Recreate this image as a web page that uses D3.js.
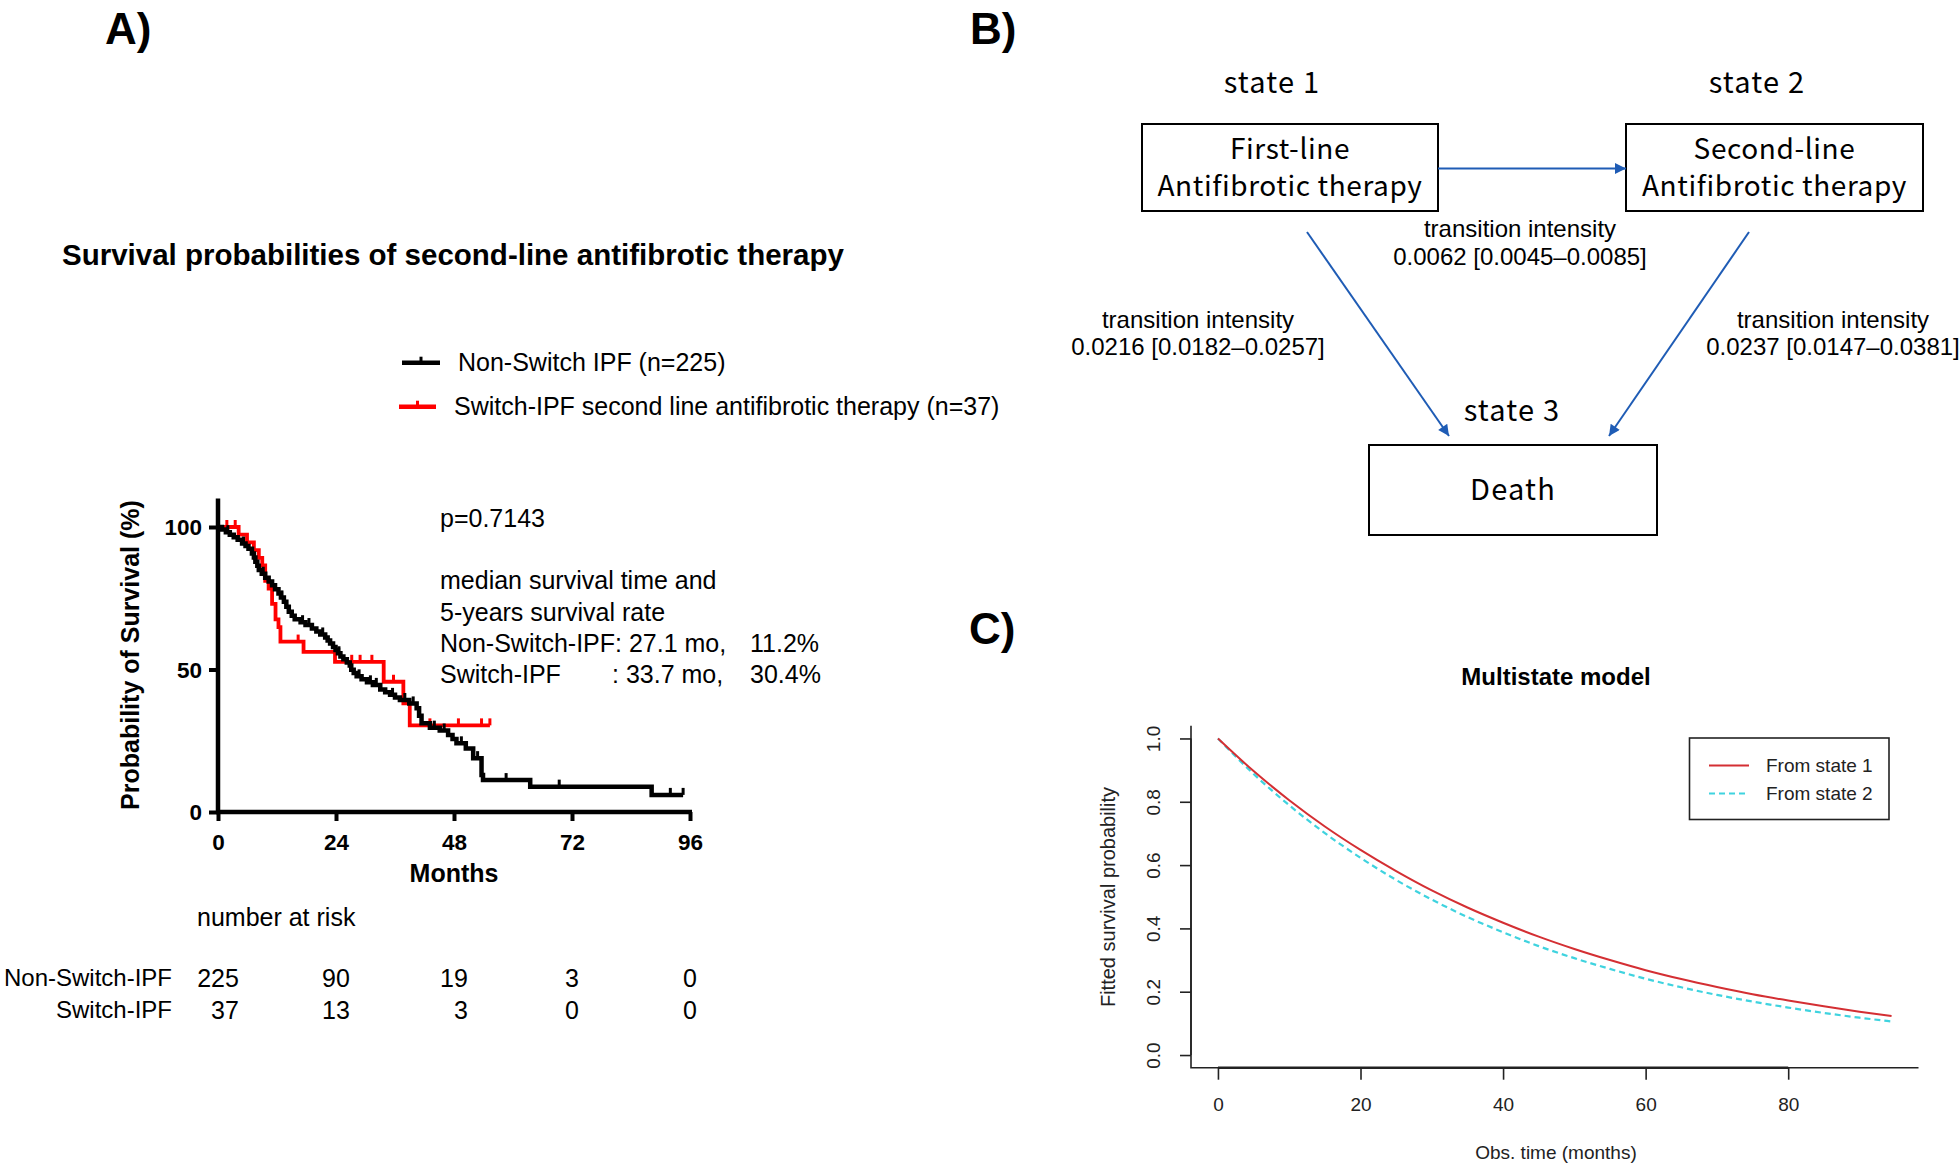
<!DOCTYPE html>
<html>
<head>
<meta charset="utf-8">
<script src="https://cdn.jsdelivr.net/npm/d3@7"></script>
<style>
  html, body { margin: 0; padding: 0; background: #fff; }
  svg { display: block; }
</style>
</head>
<body>
<script>
// ---------------- DATA ----------------
// Panel A: Kaplan-Meier (months, survival %)
const kmMonthTicks = [0, 24, 48, 72, 96];
const kmSurvTicks = [0, 50, 100];
const nonSwitchTimes = [0, 0.8, 1.6, 2.4, 3.2, 4.0, 4.9, 5.6, 6.2, 6.9, 7.3, 7.6, 8.0, 8.3, 8.9, 9.6, 10.3, 11.0, 11.6, 12.3, 12.8, 13.4, 13.9, 14.4, 15.0, 15.6, 16.8, 17.8, 19.1, 20.0, 20.8, 21.8, 22.3, 22.8, 23.4, 23.9, 24.4, 24.9, 25.5, 26.2, 26.8, 27.1, 27.6, 28.2, 29.2, 30.3, 31.5, 33.0, 34.0, 35.0, 36.0, 37.0, 38.9, 40.4, 40.9, 41.4, 43.1, 45.1, 46.8, 47.7, 48.5, 50.4, 51.9, 53.6, 53.9, 63.5, 88.2];
const nonSwitchSurv = [100, 99.1, 98.2, 97.3, 96.4, 95.5, 94.2, 93.3, 92.4, 90.7, 89.3, 87.8, 86.4, 84.9, 83.6, 82.2, 80.9, 79.6, 78.2, 76.7, 75.3, 73.8, 72.0, 70.3, 68.9, 67.6, 66.6, 65.6, 64.4, 63.3, 62.3, 61.2, 60.2, 59.1, 57.9, 56.8, 55.7, 54.6, 53.6, 52.5, 51.4, 49.9, 48.8, 47.6, 46.6, 45.5, 44.6, 43.0, 42.0, 41.1, 40.2, 39.3, 38.1, 36.4, 33.8, 31.1, 29.6, 28.6, 27.0, 25.6, 24.1, 22.3, 18.9, 13.0, 11.2, 8.9, 6.0];
const nonSwitchEnd = 94.6;
const nonSwitchCensor = [2.0, 5.2, 9.2, 13.0, 17.2, 18.5, 21.3, 24.6, 28.7, 31.0, 32.2, 35.5, 38.0, 39.7, 44.0, 46.0, 49.5, 52.8, 58.6, 69.4, 92.0, 94.6];
const switchTimes = [0, 4.2, 5.9, 7.3, 8.3, 9.0, 9.6, 10.3, 11.0, 11.7, 12.3, 12.7, 17.4, 23.8, 33.7, 37.7, 39.0];
const switchSurv = [100, 97.3, 94.6, 91.9, 89.2, 86.5, 81.1, 78.4, 73.0, 67.6, 64.9, 59.8, 56.2, 52.7, 45.7, 38.1, 30.4];
const switchEnd = 55.3;
const switchCensor = [1.8, 3.5, 16.3, 27.2, 28.9, 31.3, 35.7, 43.1, 48.9, 53.6, 55.3];
const legendLabelsA = ["Non-Switch IPF (n=225)", "Switch-IPF second line antifibrotic therapy (n=37)"];
const riskTimes = [0, 24, 48, 72, 96];
const riskNonSwitch = [225, 90, 19, 3, 0];
const riskSwitch = [37, 13, 3, 0, 0];
const riskRowLabels = ["Non-Switch-IPF", "Switch-IPF"];

// Panel B: multistate diagram
const stateTitles = ["state 1", "state 2", "state 3"];
const stateBoxLines = [["First-line", "Antifibrotic therapy"], ["Second-line", "Antifibrotic therapy"], ["Death"]];
const transitionLabels = ["0.0062 [0.0045\u20130.0085]", "0.0216 [0.0182\u20130.0257]", "0.0237 [0.0147\u20130.0381]"];

// Panel C: fitted survival (months, probability)
const msTimes = [0, 5, 10, 15, 20, 25, 30, 35, 40, 45, 50, 55, 60, 65, 70, 75, 80, 85, 90, 94.5];
const msFromState1 = [1.000, 0.897, 0.805, 0.722, 0.648, 0.581, 0.520, 0.466, 0.418, 0.374, 0.335, 0.300, 0.268, 0.240, 0.215, 0.192, 0.172, 0.154, 0.137, 0.123];
const msFromState2 = [1.000, 0.888, 0.789, 0.701, 0.623, 0.553, 0.491, 0.436, 0.388, 0.344, 0.306, 0.272, 0.241, 0.214, 0.190, 0.169, 0.150, 0.133, 0.118, 0.106];
const msXTicks = [0, 20, 40, 60, 80];
const msYTicks = [0, 0.2, 0.4, 0.6, 0.8, 1.0];
const msLegend = ["From state 1", "From state 2"];

// ---------------- DRAW ----------------
const W = 1959, H = 1164;
const SANS = "'Liberation Sans', Arial, Helvetica, sans-serif";
const JP = "'Noto Sans CJK JP', 'Noto Sans', sans-serif";
const svg = d3.select("body").append("svg").attr("width", W).attr("height", H)
  .style("font-family", SANS);
svg.append("rect").attr("width", W).attr("height", H).attr("fill", "#fff");

function txt(g, x, y, s, size, opts = {}) {
  const t = g.append("text").attr("x", x).attr("y", y).attr("dy", "0.35em")
    .attr("font-size", size).attr("font-weight", opts.bold ? "bold" : "normal")
    .attr("text-anchor", opts.anchor || "start")
    .attr("font-family", opts.font || SANS)
    .attr("fill", opts.fill || "#000").text(s);
  if (opts.ls) t.attr("letter-spacing", opts.ls);
  return t;
}

// Panel letters
[["A)", 105, 44], ["B)", 970, 44], ["C)", 969, 644]].forEach(([s, x, y]) => {
  svg.append("text").attr("x", x).attr("y", y).attr("font-size", 44).attr("font-weight", "bold").text(s);
});

// ===== Panel A =====
const gA = svg.append("g");
const xA = d3.scaleLinear().domain([0, 96]).range([218, 690]);
const yA = d3.scaleLinear().domain([0, 110]).range([812, 498.5]);

txt(gA, 62, 255, "Survival probabilities of second-line antifibrotic therapy", 29.5, {bold: true});

// legend
const legA = [[362.7, "#000", 458], [406.7, "#f00", 454]];
legA.forEach(([ly, c, tx], i) => {
  const x0 = i === 0 ? 402 : 399, x1 = i === 0 ? 440 : 436;
  gA.append("line").attr("x1", x0).attr("x2", x1).attr("y1", ly).attr("y2", ly)
    .attr("stroke", c).attr("stroke-width", 4.5);
  gA.append("line").attr("x1", (x0 + x1) / 2).attr("x2", (x0 + x1) / 2).attr("y1", ly).attr("y2", ly - 6)
    .attr("stroke", c).attr("stroke-width", 3);
  txt(gA, tx, ly, legendLabelsA[i], 25);
});

// axes
const xAxisA = d3.axisBottom(xA).tickValues(kmMonthTicks).tickSize(9).tickSizeOuter(0).tickPadding(13);
const yAxisA = d3.axisLeft(yA).tickValues(kmSurvTicks).tickSize(9).tickSizeOuter(0).tickPadding(7);
const gx = gA.append("g").attr("transform", "translate(0,812)").call(xAxisA);
const gy = gA.append("g").attr("transform", "translate(218,0)").call(yAxisA);
[gx, gy].forEach(g => {
  g.select(".domain").attr("stroke", "#000").attr("stroke-width", 4.5);
  g.selectAll(".tick line").attr("stroke", "#000").attr("stroke-width", 4);
  g.selectAll(".tick text").attr("font-size", 22.5).attr("font-weight", "bold").attr("fill", "#000")
    .attr("font-family", SANS);
});
gx.select(".domain").attr("d", `M${xA(0) - 2},0H${xA(96) + 2}`);
gy.select(".domain").attr("d", `M0,${yA(0) + 2}V${yA(110)}`);
gy.selectAll(".tick text").attr("dy", "0.35em");

txt(gA, 454, 873, "Months", 25, {bold: true, anchor: "middle"});
gA.append("text").attr("transform", "translate(130,655) rotate(-90)").attr("dy", "0.35em")
  .attr("text-anchor", "middle").attr("font-size", 25).attr("font-weight", "bold").text("Probability of Survival (%)");

// KM curves
function stepData(times, surv, end) {
  const d = times.map((t, i) => [t, surv[i]]);
  d.push([end, surv[surv.length - 1]]);
  return d;
}
function survAt(times, surv, t) {
  let v = surv[0];
  for (let i = 0; i < times.length; i++) if (times[i] <= t) v = surv[i];
  return v;
}
const kmLine = d3.line().x(d => xA(d[0])).y(d => yA(d[1])).curve(d3.curveStepAfter);
const series = [
  {times: switchTimes, surv: switchSurv, end: switchEnd, cens: switchCensor, color: "#f00", w: 3.8},
  {times: nonSwitchTimes, surv: nonSwitchSurv, end: nonSwitchEnd, cens: nonSwitchCensor, color: "#000", w: 4.5}
];
series.forEach(s => {
  gA.append("path").attr("d", kmLine(stepData(s.times, s.surv, s.end)))
    .attr("fill", "none").attr("stroke", s.color).attr("stroke-width", s.w).attr("stroke-linejoin", "miter");
  gA.selectAll(null).data(s.cens).enter().append("line")
    .attr("x1", d => xA(d)).attr("x2", d => xA(d))
    .attr("y1", d => yA(survAt(s.times, s.surv, d)))
    .attr("y2", d => yA(survAt(s.times, s.surv, d)) - 7)
    .attr("stroke", s.color).attr("stroke-width", 3);
});

// annotations
txt(gA, 440, 518, "p=0.7143", 25);
txt(gA, 440, 580, "median survival time and", 25);
txt(gA, 440, 612, "5-years survival rate", 25);
txt(gA, 440, 643, "Non-Switch-IPF: 27.1 mo,", 25);
txt(gA, 750, 643, "11.2%", 25);
txt(gA, 440, 674, "Switch-IPF", 25);
txt(gA, 612, 674, ": 33.7 mo,", 25);
txt(gA, 750, 674, "30.4%", 25);

// number at risk
txt(gA, 197, 917, "number at risk", 25);
txt(gA, 172, 978, riskRowLabels[0], 24, {anchor: "end"});
txt(gA, 172, 1010, riskRowLabels[1], 24, {anchor: "end"});
riskTimes.forEach((t, i) => {
  const t1 = txt(gA, xA(t), 978, String(riskNonSwitch[i]), 25, {anchor: "middle"});
  const bb = t1.node().getBBox();
  txt(gA, bb.x + bb.width, 1010, String(riskSwitch[i]), 25, {anchor: "end"});
});

// ===== Panel B =====
const gB = svg.append("g");
const boxes = [
  {x: 1142, y: 124, w: 296, h: 87},
  {x: 1626, y: 124, w: 297, h: 87},
  {x: 1369, y: 445, w: 288, h: 90}
];
const titlePos = [[1272, 83], [1757, 83], [1512, 411]];
boxes.forEach((b, i) => {
  gB.append("rect").attr("x", b.x).attr("y", b.y).attr("width", b.w).attr("height", b.h)
    .attr("fill", "none").attr("stroke", "#000").attr("stroke-width", 2);
  txt(gB, titlePos[i][0], titlePos[i][1], stateTitles[i], 29, {anchor: "middle", font: JP, ls: 1.2});
  const lines = stateBoxLines[i];
  const cx = b.x + b.w / 2;
  if (lines.length === 2) {
    txt(gB, cx, 149, lines[0], 28, {anchor: "middle", font: JP, ls: 0.6});
    txt(gB, cx, 186, lines[1], 28, {anchor: "middle", font: JP, ls: 0.6});
  } else {
    txt(gB, cx, b.y + b.h / 2, lines[0], 29, {anchor: "middle", font: JP, ls: 1.2});
  }
});
const defs = svg.append("defs");
defs.append("marker").attr("id", "arr").attr("viewBox", "0 0 10 10").attr("refX", 10).attr("refY", 5)
  .attr("markerWidth", 13).attr("markerHeight", 11).attr("markerUnits", "userSpaceOnUse").attr("orient", "auto")
  .append("path").attr("d", "M0,0L10,5L0,10z").attr("fill", "#1f5cb5");
const arrows = [
  [1438, 168.5, 1626, 168.5],
  [1307, 232, 1449, 436],
  [1749, 232, 1609, 436]
];
arrows.forEach(a => {
  gB.append("line").attr("x1", a[0]).attr("y1", a[1]).attr("x2", a[2]).attr("y2", a[3])
    .attr("stroke", "#1f5cb5").attr("stroke-width", 2).attr("marker-end", "url(#arr)");
});
const tPos = [[1520, 229, 257], [1198, 320, 347], [1833, 320, 347]];
tPos.forEach((p, i) => {
  txt(gB, p[0], p[1], "transition intensity", 24, {anchor: "middle"});
  txt(gB, p[0], p[2], transitionLabels[i], 24, {anchor: "middle"});
});

// ===== Panel C =====
const gC = svg.append("g");
const xC = d3.scaleLinear().domain([-3.78, 98.28]).range([1191, 1918.5]);
const yC = d3.scaleLinear().domain([-0.04, 1.04]).range([1067.7, 725.8]);
txt(gC, 1556, 677, "Multistate model", 24, {bold: true, anchor: "middle"});

// L box
gC.append("path").attr("d", `M${xC.range()[0]},${yC.range()[1]}V${yC.range()[0]}H${xC.range()[1]}`)
  .attr("fill", "none").attr("stroke", "#222").attr("stroke-width", 1.6);
const xAxisC = d3.axisBottom(xC).tickValues(msXTicks).tickSize(12).tickSizeOuter(0).tickPadding(18);
const yAxisC = d3.axisLeft(yC).tickValues(msYTicks).tickSize(11).tickSizeOuter(0).tickFormat(d3.format(".1f"));
const gxc = gC.append("g").attr("transform", `translate(0,${yC.range()[0]})`).call(xAxisC);
const gyc = gC.append("g").attr("transform", `translate(${xC.range()[0]},0)`).call(yAxisC);
gxc.select(".domain").attr("d", `M${xC(0)},0H${xC(80)}`).attr("stroke", "#222").attr("stroke-width", 2.5);
gyc.select(".domain").attr("d", `M0,${yC(0)}V${yC(1)}`).attr("stroke", "#222").attr("stroke-width", 1.6);
[gxc, gyc].forEach(g => {
  g.selectAll(".tick line").attr("stroke", "#222").attr("stroke-width", 1.6);
  g.selectAll(".tick text").attr("font-size", 19).attr("fill", "#222").attr("font-family", SANS);
});
gyc.selectAll(".tick text").attr("x", null).attr("dy", null).attr("text-anchor", "middle")
  .attr("transform", d => `translate(-38,0) rotate(-90)`).attr("dominant-baseline", "central");
txt(gC, 1556, 1152, "Obs. time (months)", 19, {anchor: "middle", fill: "#222"});
gC.append("text").attr("transform", "translate(1108,897) rotate(-90)").attr("dy", "0.35em")
  .attr("text-anchor", "middle").attr("font-size", 20).attr("fill", "#222").text("Fitted survival probability");

const msLine = d3.line().x((d, i) => xC(msTimes[i])).y(d => yC(d)).curve(d3.curveMonotoneX);
gC.append("path").attr("d", msLine(msFromState2)).attr("fill", "none")
  .attr("stroke", "#3fd3df").attr("stroke-width", 2.2).attr("stroke-dasharray", "6,4");
gC.append("path").attr("d", msLine(msFromState1)).attr("fill", "none")
  .attr("stroke", "#d42f33").attr("stroke-width", 2);

// legend
gC.append("rect").attr("x", 1689.5).attr("y", 738).attr("width", 199.5).attr("height", 81.5)
  .attr("fill", "#fff").attr("stroke", "#222").attr("stroke-width", 1.6);
[[765.5, "#d42f33", null], [793.5, "#3fd3df", "6,4"]].forEach(([ly, c, dash], i) => {
  const l = gC.append("line").attr("x1", 1709).attr("x2", 1749).attr("y1", ly).attr("y2", ly)
    .attr("stroke", c).attr("stroke-width", 2.2);
  if (dash) l.attr("stroke-dasharray", dash);
  txt(gC, 1766, ly, msLegend[i], 19, {fill: "#222"});
});
</script>
</body>
</html>
